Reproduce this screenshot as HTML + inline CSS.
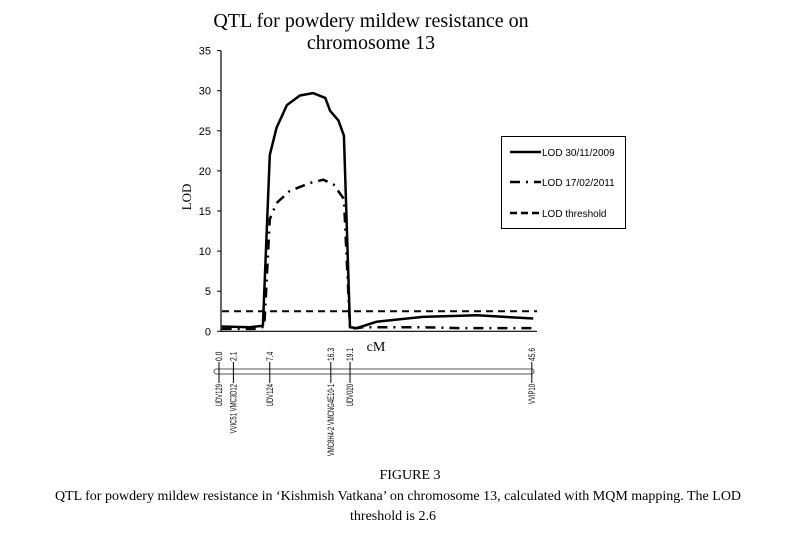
<!DOCTYPE html>
<html><head><meta charset="utf-8"><style>
body{margin:0;background:#fff;width:786px;height:534px;overflow:hidden}
svg{display:block}
.serif{font-family:"Liberation Serif",serif}
.sans{font-family:"Liberation Sans",sans-serif}
</style></head><body>
<svg id="c" width="786" height="534"></svg>
<script>
const cmA=[0.4,4.5,6.4,7.4,8.4,9.9,11.8,13.7,15.5,16.2,17.4,18.2,19.1,20.1,23,29.7,37.6,45.8];
const lod2009=[0.6,0.5,0.7,22,25.4,28.2,29.4,29.7,29.1,27.5,26.3,24.4,0.5,0.4,1.2,1.8,2.0,1.6];
const cmB=[0.4,5.5,6.6,7.4,8.4,10.3,13.3,15.2,16.7,18.2,19.1,21,25,30,35,40,45.8];
const lod2011=[0.3,0.3,0.6,14,16.0,17.5,18.5,18.9,18.3,16.5,0.3,0.5,0.5,0.5,0.4,0.4,0.4];
const threshold=2.5;
const yTicks=[0,5,10,15,20,25,30,35];
const markerPos=[0.0,2.1,7.4,16.3,19.1,45.6];
const markerPosLabels=["0.0","2.1","7.4","16.3","19.1","45.6"];
const markerNames=["UDV129","VVIC51 VMC3D12","UDV124","VMC8H4-2 VMCNG4E10-1","UDV020","VVIP10"];
const NS="http://www.w3.org/2000/svg";
const svg=document.getElementById('c');
function el(t,a,txt){const e=document.createElementNS(NS,t);for(const k in a)e.setAttribute(k,a[k]);if(txt!==undefined)e.textContent=txt;svg.appendChild(e);return e;}
const X=cm=>219+cm*6.86;
const Y=v=>331.3-v*8.02;
let e;
e=el('text',{x:371,y:27,'text-anchor':'middle','font-size':20,class:'serif'},'QTL for powdery mildew resistance on');

e=el('text',{x:371,y:49,'text-anchor':'middle','font-size':20,class:'serif'},'chromosome 13');

e=el('text',{x:0,y:0,transform:'translate(191,197) rotate(-90)','text-anchor':'middle','font-size':13,class:'serif'},'LOD');

e=el('line',{x1:221,y1:Y(35),x2:221,y2:Y(0),stroke:'#000','stroke-width':1.2});

e=el('line',{x1:221,y1:Y(0),x2:537,y2:Y(0),stroke:'#000','stroke-width':1.2});

yTicks.forEach(t=>{
  const tk=el('line',{x1:217,y1:Y(t),x2:221,y2:Y(t),stroke:'#000'});
  
  const lb=el('text',{x:211,y:Y(t)+4,'text-anchor':'end','font-size':11,class:'sans'},String(t));
  
});
function pts(xs,ys){return xs.map((c,i)=>X(c).toFixed(1)+','+Y(ys[i]).toFixed(1)).join(' ');}
e=el('line',{x1:222,y1:Y(threshold),x2:537,y2:Y(threshold),stroke:'#000','stroke-width':2,'stroke-dasharray':'7,5'});

e=el('polyline',{points:pts(cmB,lod2011),fill:'none',stroke:'#000','stroke-width':2.5,'stroke-dasharray':'10,6,2,6','stroke-linejoin':'round'});

e=el('polyline',{points:pts(cmA,lod2009),fill:'none',stroke:'#000','stroke-width':2.5,'stroke-linejoin':'round'});

e=el('rect',{x:501.5,y:136.5,width:124,height:92,fill:'#fff',stroke:'#000'});

const leg=[['LOD 30/11/2009','',152],['LOD 17/02/2011','10,6,2,6',182],['LOD threshold','7,4',213]];
leg.forEach(l=>{
  const ln=el('line',{x1:510,y1:l[2],x2:541,y2:l[2],stroke:'#000','stroke-width':2.5,'stroke-dasharray':l[1]||'none'});
  
  const tx=el('text',{x:542,y:l[2]+4,'font-size':10,class:'sans'},l[0]);
  
});
e=el('text',{x:376,y:351,'text-anchor':'middle','font-size':14,class:'serif'},'cM');

e=el('rect',{x:214,y:369,width:320,height:5,rx:2.5,fill:'#fff',stroke:'#555','stroke-width':1});

markerPos.forEach((p,i)=>{
  const x=X(p);
  const tk=el('line',{x1:x,y1:362,x2:x,y2:383,stroke:'#000','stroke-width':1});
  
  const pl=el('text',{x:0,y:0,transform:`translate(${x+3},361) rotate(-90) scale(0.75,1)`,'font-size':9,class:'sans'},markerPosLabels[i]);
  
  const nm=el('text',{x:0,y:0,transform:`translate(${x+3},384) rotate(-90) scale(0.66,1)`,'text-anchor':'end','font-size':9,class:'sans'},markerNames[i]);
  
});
e=el('text',{x:410,y:479,'text-anchor':'middle','font-size':14,class:'serif'},'FIGURE 3');

e=el('text',{x:398,y:500,'text-anchor':'middle','font-size':14,class:'serif'},'QTL for powdery mildew resistance in ‘Kishmish Vatkana’ on chromosome 13, calculated with MQM mapping. The LOD');

e=el('text',{x:393,y:520,'text-anchor':'middle','font-size':14,class:'serif'},'threshold is 2.6');

</script>
</body></html>
